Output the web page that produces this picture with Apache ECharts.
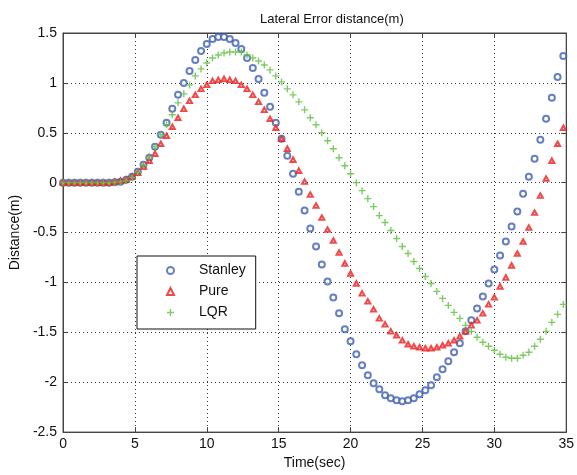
<!DOCTYPE html>
<html>
<head>
<meta charset="utf-8">
<script src="https://cdn.jsdelivr.net/npm/echarts@6/dist/echarts.min.js"></script>
<style>
  html, body { margin: 0; padding: 0; background: #fff; }
  #chart { width: 577px; height: 475px; }
</style>
</head>
<body>
<div id="chart"></div>
<script>
// sample times (sec)
const timeSec = [
  0, 0.4, 0.8, 1.2, 1.6, 2.0, 2.4, 2.8, 3.2, 3.6,
  4.0, 4.4, 4.8, 5.2, 5.6, 6.0, 6.4, 6.8, 7.2, 7.6,
  8.0, 8.4, 8.8, 9.2, 9.6, 10.0, 10.4, 10.8, 11.2, 11.6,
  12.0, 12.4, 12.8, 13.2, 13.6, 14.0, 14.4, 14.8, 15.2, 15.6,
  16.0, 16.4, 16.8, 17.2, 17.6, 18.0, 18.4, 18.8, 19.2, 19.6,
  20.0, 20.4, 20.8, 21.2, 21.6, 22.0, 22.4, 22.8, 23.2, 23.6,
  24.0, 24.4, 24.8, 25.2, 25.6, 26.0, 26.4, 26.8, 27.2, 27.6,
  28.0, 28.4, 28.8, 29.2, 29.6, 30.0, 30.4, 30.8, 31.2, 31.6,
  32.0, 32.4, 32.8, 33.2, 33.6, 34.0, 34.4, 34.8
];

const stanley = [
  0, 0, 0, 0, 0, 0, 0, 0, 0, 0.005,
  0.01, 0.03, 0.06, 0.11, 0.18, 0.25, 0.36, 0.48, 0.60, 0.74,
  0.88, 1.00, 1.12, 1.23, 1.32, 1.39, 1.44, 1.46, 1.46, 1.44,
  1.40, 1.34, 1.25, 1.15, 1.04, 0.90, 0.76, 0.60, 0.44, 0.27,
  0.09, -0.09, -0.28, -0.46, -0.64, -0.82, -0.99, -1.15, -1.31, -1.47,
  -1.59, -1.72, -1.83, -1.93, -2.01, -2.07, -2.13, -2.16, -2.18, -2.19,
  -2.18, -2.16, -2.12, -2.08, -2.03, -1.95, -1.87, -1.79, -1.70, -1.61,
  -1.49, -1.38, -1.26, -1.14, -1.01, -0.87, -0.73, -0.59, -0.44, -0.29,
  -0.11, 0.06, 0.24, 0.43, 0.64, 0.85, 1.06, 1.27
];

const pure = [
  0, 0, 0, 0, 0, 0, 0, 0, 0, 0.01,
  0.02, 0.03, 0.06, 0.10, 0.16, 0.22, 0.29, 0.39, 0.47, 0.56,
  0.65, 0.74, 0.82, 0.88, 0.94, 0.98, 1.02, 1.03, 1.04, 1.03,
  1.02, 0.98, 0.94, 0.88, 0.81, 0.73, 0.64, 0.55, 0.44, 0.34,
  0.23, 0.12, 0.01, -0.12, -0.23, -0.35, -0.47, -0.58, -0.70, -0.81,
  -0.91, -1.01, -1.11, -1.19, -1.27, -1.36, -1.42, -1.49, -1.53, -1.58,
  -1.62, -1.64, -1.65, -1.66, -1.66, -1.65, -1.63, -1.61, -1.58, -1.54,
  -1.49, -1.43, -1.38, -1.31, -1.22, -1.15, -1.04, -0.95, -0.83, -0.71,
  -0.59, -0.45, -0.30, -0.13, 0.04, 0.22, 0.39, 0.55
];

const lqr = [
  0, 0, 0, 0, 0, 0, 0, 0, 0, 0.005,
  0.01, 0.02, 0.05, 0.10, 0.17, 0.26, 0.36, 0.48, 0.58, 0.68,
  0.80, 0.89, 0.98, 1.07, 1.14, 1.20, 1.25, 1.28, 1.30, 1.31,
  1.31, 1.31, 1.28, 1.25, 1.22, 1.18, 1.13, 1.07, 1.01, 0.94,
  0.88, 0.81, 0.73, 0.65, 0.58, 0.50, 0.42, 0.34, 0.25, 0.17,
  0.09, 0.00, -0.08, -0.16, -0.24, -0.33, -0.40, -0.48, -0.56, -0.64,
  -0.71, -0.79, -0.86, -0.94, -1.01, -1.09, -1.16, -1.23, -1.30, -1.36,
  -1.43, -1.49, -1.55, -1.60, -1.64, -1.68, -1.72, -1.75, -1.76, -1.76,
  -1.73, -1.70, -1.64, -1.57, -1.49, -1.40, -1.32, -1.22
];

const FONT = '"Liberation Sans", Arial, sans-serif';
const plusSymbol = 'path://M4,0H6V4H10V6H6V10H4V6H0V4H4Z';

const toPairs = (vals) => timeSec.map((t, i) => [t, vals[i]]);

const chart = echarts.init(document.getElementById('chart'), null, { renderer: 'canvas' });

// MATLAB-ish box axes
const axisLineStyle = { color: '#444', width: 1 };
const gridStyle = { color: '#333', width: 1, type: [1, 3] };

const option = {
  animation: false,
  backgroundColor: '#fff',
  textStyle: { fontFamily: FONT },
  title: {
    text: 'Lateral Error distance(m)',
    left: 255,
    top: 8,
    textStyle: { fontFamily: FONT, fontSize: 13, fontWeight: 'normal', color: '#111' }
  },
  legend: {
    orient: 'vertical',
    left: 137,
    top: 256,
    padding: [7, 10, 9, 29],
    itemWidth: 7,
    itemHeight: 7,
    itemGap: 6,
    symbolKeepAspect: true,
    backgroundColor: '#fff',
    borderColor: '#111',
    borderWidth: 1,
    borderRadius: 0,
    textStyle: { fontFamily: FONT, fontSize: 14, color: '#111', lineHeight: 15, padding: [0, 0, 0, 20] },
    data: ['Stanley', 'Pure', 'LQR']
  },
  grid: {
    left: 62,
    right: 9,
    top: 33,
    bottom: 42,
    show: true,
    borderColor: '#444',
    borderWidth: 1
  },
  xAxis: [
    {
      type: 'value',
      min: 0,
      max: 35,
      interval: 5,
      name: 'Time(sec)',
      nameLocation: 'middle',
      nameGap: 23,
      nameTextStyle: { fontFamily: FONT, fontSize: 14, color: '#111' },
      axisLine: { show: true, onZero: false, lineStyle: axisLineStyle },
      axisTick: { show: true, inside: true, length: 5, lineStyle: axisLineStyle },
      axisLabel: { margin: 5, fontFamily: FONT, fontSize: 14, color: '#111' },
      splitLine: { show: true, lineStyle: gridStyle }
    },
    {
      type: 'value',
      position: 'top',
      min: 0,
      max: 35,
      interval: 5,
      axisLine: { show: true, onZero: false, lineStyle: axisLineStyle },
      axisTick: { show: true, inside: true, length: 5, lineStyle: axisLineStyle },
      axisLabel: { show: false },
      splitLine: { show: false }
    }
  ],
  yAxis: [
    {
      type: 'value',
      min: -2.5,
      max: 1.5,
      interval: 0.5,
      name: 'Distance(m)',
      nameLocation: 'middle',
      nameGap: 37,
      nameTextStyle: { fontFamily: FONT, fontSize: 14, color: '#111' },
      axisLine: { show: true, onZero: false, lineStyle: axisLineStyle },
      axisTick: { show: true, inside: true, length: 5, lineStyle: axisLineStyle },
      axisLabel: { margin: 6, fontFamily: FONT, fontSize: 14, color: '#111' },
      splitLine: { show: true, lineStyle: gridStyle }
    },
    {
      type: 'value',
      position: 'right',
      min: -2.5,
      max: 1.5,
      interval: 0.5,
      axisLine: { show: true, onZero: false, lineStyle: axisLineStyle },
      axisTick: { show: true, inside: true, length: 5, lineStyle: axisLineStyle },
      axisLabel: { show: false },
      splitLine: { show: false }
    }
  ],
  series: [
    {
      name: 'Stanley',
      type: 'scatter',
      symbol: 'emptyCircle',
      symbolSize: 6,
      itemStyle: { color: '#3f5fb5', borderWidth: 1.2 },
      data: toPairs(stanley)
    },
    {
      name: 'Pure',
      type: 'scatter',
      symbol: 'emptyTriangle',
      symbolSize: [5, 4.5],
      itemStyle: { color: '#ee1c1c', borderWidth: 1 },
      data: toPairs(pure)
    },
    {
      name: 'LQR',
      type: 'scatter',
      symbol: plusSymbol,
      symbolSize: 7,
      itemStyle: { color: '#5cbf3c' },
      data: toPairs(lqr)
    }
  ]
};

chart.setOption(option);
</script>
</body>
</html>
